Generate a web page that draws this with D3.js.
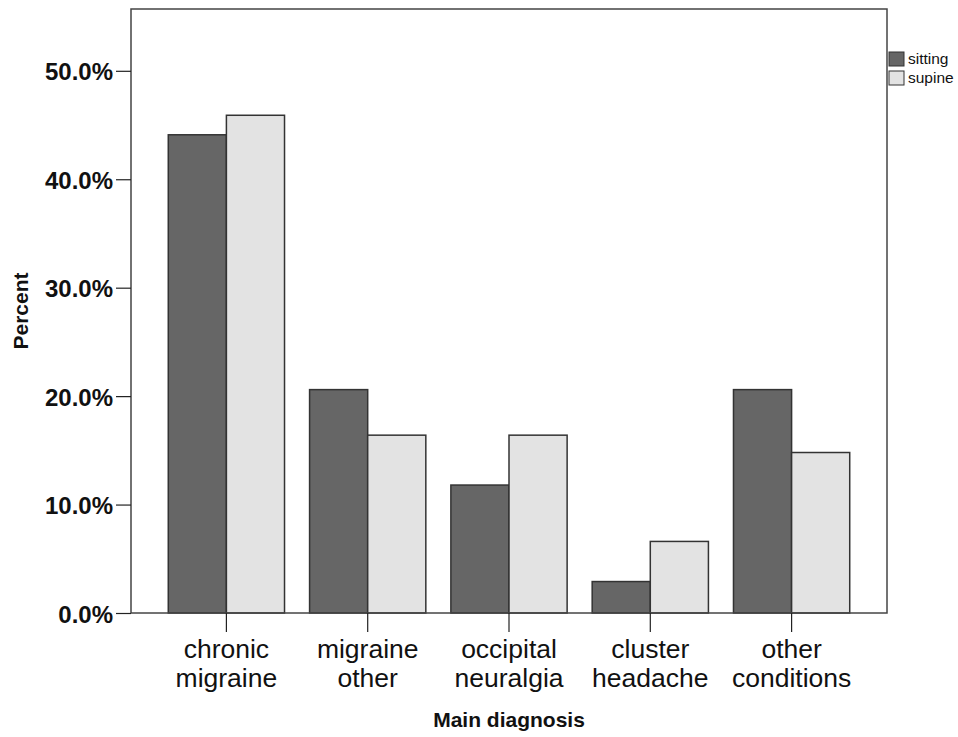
<!DOCTYPE html>
<html>
<head>
<meta charset="utf-8">
<script src="https://cdn.jsdelivr.net/npm/d3@7"></script>
<style>
  body { margin: 0; background: #fff; }
  text { font-family: "Liberation Sans", Arial, sans-serif; }
</style>
</head>
<body>
<div id="chart"></div>
<script>
// Datos
const categorias = [["chronic", "migraine"], ["migraine", "other"], ["occipital", "neuralgia"], ["cluster", "headache"], ["other", "conditions"]];
const series = ["sitting", "supine"];
const sitting = [44.1, 20.6, 11.8, 2.9, 20.6];
const supine = [45.9, 16.4, 16.4, 6.6, 14.8];
const ticksY = [0, 10, 20, 30, 40, 50];

const svgWidth = 958, svgHeight = 737;
const margin = { top: 9, right: 71, bottom: 124, left: 131 };
const width = svgWidth - margin.left - margin.right;
const height = svgHeight - margin.top - margin.bottom;

const svg = d3.select("#chart")
    .append("svg")
    .attr("width", svgWidth)
    .attr("height", svgHeight);

const g = svg.append("g")
    .attr("transform", `translate(${margin.left}, ${margin.top})`);

// Escala X
const x = d3.scaleBand()
    .domain(d3.range(categorias.length))
    .range([0, width])
    .paddingInner(0.1773)
    .paddingOuter(0.2638);

const xSub = d3.scaleBand()
    .domain(series)
    .range([0, x.bandwidth()]);

// Escala Y
const y = d3.scaleLinear()
    .domain([0, 55.7])
    .range([height, 0]);

const color = d3.scaleOrdinal()
    .domain(series)
    .range(["#666666", "#e3e3e3"]);

const datos = categorias.map((c, i) => ({ i, sitting: sitting[i], supine: supine[i] }));

// Barras
const grupos = g.selectAll(".grupo")
    .data(datos)
    .enter()
    .append("g")
    .attr("transform", d => `translate(${x(d.i)},0)`);

grupos.selectAll("rect")
    .data(d => series.map(s => ({ s, v: d[s] })))
    .enter()
    .append("rect")
    .attr("x", d => xSub(d.s))
    .attr("y", d => y(d.v))
    .attr("width", xSub.bandwidth())
    .attr("height", d => height - y(d.v))
    .attr("fill", d => color(d.s))
    .attr("stroke", "#333")
    .attr("stroke-width", 1.5);

// Marco
g.append("rect")
    .attr("width", width)
    .attr("height", height)
    .attr("fill", "none")
    .attr("stroke", "#444")
    .attr("stroke-width", 1.5);

// Eje Y
const ejeY = g.append("g")
    .call(d3.axisLeft(y).tickValues(ticksY).tickSize(15).tickFormat(d => d.toFixed(1) + "%"));
ejeY.select(".domain").remove();
ejeY.selectAll("line").attr("stroke", "#222").attr("stroke-width", 1.2);
ejeY.selectAll("text")
    .attr("x", -18)
    .attr("dy", "0.38em")
    .attr("font-size", 24)
    .attr("font-weight", "bold")
    .attr("fill", "#111")
    .style("font-family", "'Liberation Sans', Arial, sans-serif");

// Eje X
const ejeX = g.append("g")
    .attr("transform", `translate(0, ${height})`)
    .call(d3.axisBottom(x).tickSize(19).tickFormat(""));
ejeX.select(".domain").remove();
ejeX.selectAll("line").attr("stroke", "#222").attr("stroke-width", 1.2);

const etiquetas = g.selectAll(".etq")
    .data(datos)
    .enter()
    .append("text")
    .attr("text-anchor", "middle")
    .attr("font-size", 26.5)
    .attr("fill", "#111")
    .attr("transform", d => `translate(${x(d.i) + x.bandwidth() / 2}, ${height + 45})`);

etiquetas.append("tspan").attr("x", 0).attr("y", 0).text(d => categorias[d.i][0]);
etiquetas.append("tspan").attr("x", 0).attr("y", 29).text(d => categorias[d.i][1]);

// Títulos de ejes
svg.append("text")
    .attr("x", 509)
    .attr("y", 727)
    .attr("text-anchor", "middle")
    .attr("font-size", 21)
    .attr("font-weight", "bold")
    .attr("fill", "#111")
    .text("Main diagnosis");

svg.append("text")
    .attr("transform", `translate(28, ${margin.top + height / 2}) rotate(-90)`)
    .attr("text-anchor", "middle")
    .attr("font-size", 21)
    .attr("font-weight", "bold")
    .attr("fill", "#111")
    .text("Percent");

// Leyenda
const legend = svg.append("g")
    .attr("transform", `translate(889, 52)`);

series.forEach((s, i) => {
    legend.append("rect")
        .attr("y", i * 19)
        .attr("width", 15)
        .attr("height", 14)
        .attr("fill", color(s))
        .attr("stroke", "#333");
    legend.append("text")
        .attr("x", 19)
        .attr("y", i * 19 + 12)
        .attr("font-size", 15.5)
        .attr("fill", "#111")
        .text(s);
});
</script>
</body>
</html>
